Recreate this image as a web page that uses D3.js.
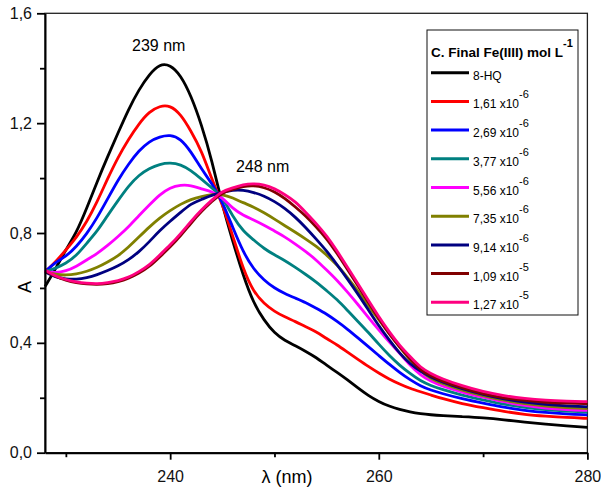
<!DOCTYPE html>
<html>
<head>
<meta charset="utf-8">
<script src="https://cdn.jsdelivr.net/npm/d3@7"></script>
<style>
  body { margin: 0; background: #fff; }
  svg { display: block; font-family: "Liberation Sans", Arial, sans-serif; }
</style>
</head>
<body>
<script>
// wavelengths (nm)
var wavelengths = [228,229,230,231,232,233,234,235,236,237,238,239,240,241,242,243,244,245,246,247,
  248,249,250,251,252,253,254,255,256,257,258,259,260,261,262,263,264,265,266,268,270,272,274,276,278,280];

// absorbance for each Fe(III) concentration
var hq    = [0.605,0.668,0.74,0.80,0.89,0.987,1.078,1.164,1.25,1.322,1.378,1.416,1.413,1.375,1.30,1.195,1.065,0.90,0.77,0.645,
  0.544,0.482,0.435,0.408,0.39,0.369,0.347,0.318,0.293,0.265,0.236,0.208,0.186,0.169,0.157,0.148,0.142,0.138,0.135,0.131,0.127,0.12,0.111,0.104,0.097,0.092];
var c161  = [0.658,0.694,0.738,0.783,0.84,0.913,0.998,1.076,1.141,1.198,1.242,1.263,1.265,1.233,1.171,1.10,0.995,0.905,0.79,0.668,
  0.585,0.543,0.514,0.494,0.478,0.458,0.441,0.415,0.393,0.366,0.34,0.314,0.29,0.268,0.25,0.234,0.222,0.21,0.198,0.178,0.164,0.15,0.139,0.133,0.128,0.125];
var c269  = [0.659,0.694,0.714,0.75,0.797,0.855,0.924,0.993,1.051,1.10,1.134,1.151,1.158,1.144,1.096,1.033,0.98,0.915,0.82,0.73,
  0.668,0.628,0.599,0.579,0.563,0.547,0.526,0.505,0.478,0.45,0.418,0.386,0.354,0.322,0.292,0.265,0.243,0.228,0.216,0.196,0.18,0.165,0.154,0.146,0.141,0.138];
var c377  = [0.659,0.671,0.689,0.717,0.763,0.806,0.864,0.918,0.971,1.011,1.035,1.051,1.056,1.05,1.028,0.996,0.964,0.931,0.86,0.806,
  0.775,0.743,0.72,0.70,0.675,0.649,0.622,0.59,0.558,0.518,0.478,0.438,0.395,0.354,0.318,0.288,0.261,0.244,0.231,0.209,0.192,0.176,0.164,0.156,0.151,0.148];
var c556  = [0.659,0.655,0.661,0.678,0.702,0.725,0.754,0.787,0.822,0.863,0.902,0.94,0.966,0.975,0.974,0.96,0.951,0.929,0.889,0.864,
  0.848,0.829,0.807,0.786,0.76,0.733,0.702,0.665,0.628,0.585,0.54,0.493,0.447,0.403,0.362,0.318,0.282,0.26,0.243,0.22,0.202,0.185,0.172,0.162,0.157,0.154];
var c735  = [0.659,0.649,0.646,0.65,0.66,0.674,0.694,0.716,0.748,0.785,0.822,0.855,0.882,0.905,0.923,0.933,0.941,0.941,0.928,0.91,
  0.895,0.874,0.851,0.826,0.803,0.778,0.752,0.72,0.684,0.638,0.589,0.535,0.485,0.434,0.385,0.337,0.296,0.27,0.252,0.227,0.208,0.19,0.178,0.169,0.164,0.161];
var c914  = [0.659,0.639,0.632,0.631,0.637,0.648,0.663,0.68,0.702,0.731,0.768,0.809,0.843,0.875,0.907,0.922,0.938,0.948,0.957,0.957,
  0.948,0.935,0.915,0.89,0.858,0.82,0.778,0.735,0.685,0.632,0.578,0.52,0.462,0.41,0.362,0.323,0.296,0.275,0.258,0.232,0.212,0.195,0.184,0.175,0.17,0.167];
var c1090 = [0.662,0.641,0.628,0.619,0.614,0.612,0.615,0.622,0.634,0.653,0.677,0.713,0.749,0.79,0.836,0.879,0.915,0.948,0.958,0.97,
  0.973,0.966,0.951,0.926,0.895,0.862,0.822,0.78,0.726,0.667,0.608,0.548,0.488,0.432,0.385,0.342,0.30,0.28,0.262,0.236,0.214,0.199,0.19,0.183,0.18,0.178];
var c1270 = [0.665,0.643,0.63,0.621,0.617,0.615,0.619,0.626,0.638,0.659,0.683,0.72,0.756,0.797,0.843,0.885,0.92,0.953,0.964,0.977,
  0.98,0.976,0.962,0.94,0.915,0.875,0.835,0.79,0.735,0.675,0.615,0.555,0.495,0.44,0.39,0.35,0.31,0.288,0.27,0.243,0.222,0.207,0.197,0.191,0.188,0.186];

var seriesValues = [hq, c161, c269, c377, c556, c735, c914, c1090, c1270];
var legendNames = ["8-HQ", "1,61 x10", "2,69 x10", "3,77 x10", "5,56 x10", "7,35 x10", "9,14 x10", "1,09 x10", "1,27 x10"];
var legendExps  = ["", "-6", "-6", "-6", "-6", "-6", "-6", "-5", "-5"];
var colors = ["#000000", "#ff0000", "#0000ff", "#008080", "#ff00ff", "#808000", "#000080", "#800000", "#ff0080"];

var xMajor = [240, 260, 280];
var xMinor = [230, 250, 270];
var yMajor = [0, 0.4, 0.8, 1.2, 1.6];
var yMinor = [0.2, 0.6, 1.0, 1.4];

var peakLabels = ["239 nm", "248 nm"];

(function() {
  var width = 601, height = 488;
  var plotLeft = 45, plotRight = 587.4, plotTop = 13.3, plotBottom = 452.7;

  var x = d3.scaleLinear().domain([228, 280]).range([plotLeft, plotRight]);
  var y = d3.scaleLinear().domain([0, 1.6]).range([plotBottom, plotTop]);

  var comma = d3.formatLocale({ decimal: ",", thousands: ".", grouping: [3], currency: ["", ""] }).format(".1f");

  var svg = d3.select("body").append("svg")
    .attr("width", width)
    .attr("height", height);

  // frame
  svg.append("rect")
    .attr("x", plotLeft).attr("y", plotTop)
    .attr("width", plotRight - plotLeft).attr("height", plotBottom - plotTop)
    .style("fill", "none")
    .style("stroke", "#222")
    .style("stroke-width", 1.3);

  // curves
  var line = d3.line()
    .x(function(d) { return x(d[0]); })
    .y(function(d) { return y(d[1]); })
    .curve(d3.curveBasis);

  seriesValues.forEach(function(vals, i) {
    svg.append("path")
      .datum(wavelengths.map(function(w, j) { return [w, vals[j]]; }))
      .attr("d", line)
      .style("fill", "none")
      .style("stroke", colors[i])
      .style("stroke-width", 2.8)
      .style("stroke-linejoin", "round");
  });

  // axes
  svg.append("g")
    .attr("transform", "translate(0," + plotBottom + ")")
    .call(d3.axisBottom(x).tickValues(xMajor).tickFormat(d3.format("d")).tickSize(7).tickPadding(11).tickSizeOuter(0));
  svg.append("g")
    .attr("transform", "translate(0," + plotBottom + ")")
    .call(d3.axisBottom(x).tickValues(xMinor).tickFormat("").tickSize(4.5).tickSizeOuter(0))
    .select(".domain").remove();

  svg.append("g")
    .attr("transform", "translate(" + plotLeft + ",0)")
    .call(d3.axisLeft(y).tickValues(yMajor).tickFormat(comma).tickSize(8).tickPadding(5).tickSizeOuter(0));
  svg.append("g")
    .attr("transform", "translate(" + plotLeft + ",0)")
    .call(d3.axisLeft(y).tickValues(yMinor).tickFormat("").tickSize(5).tickSizeOuter(0))
    .select(".domain").remove();

  svg.selectAll(".domain").style("stroke-width", 2).style("stroke", "#000");
  svg.selectAll(".tick line").style("stroke-width", 1.8).style("stroke", "#000");
  svg.selectAll(".tick text")
    .style("font-size", "16px")
    .style("font-family", "'Liberation Sans', Arial, sans-serif")
    .style("fill", "#111");

  // axis titles
  svg.append("text")
    .attr("x", 287).attr("y", 483)
    .attr("text-anchor", "middle")
    .style("font-size", "18px")
    .text("λ (nm)");

  svg.append("text")
    .attr("transform", "translate(31,287) rotate(-90)")
    .attr("text-anchor", "middle")
    .style("font-size", "18px")
    .text("A");

  // peak labels: placed above the 8-HQ maximum and the last curve's maximum
  var hqMax = d3.maxIndex(hq), lastMax = d3.maxIndex(c1270);
  svg.append("text")
    .attr("x", x(wavelengths[hqMax]) - 1)
    .attr("y", y(hq[hqMax]) - 13)
    .attr("text-anchor", "middle")
    .style("font-size", "16px")
    .text(peakLabels[0]);
  svg.append("text")
    .attr("x", x(wavelengths[lastMax]) + 9)
    .attr("y", y(c1270[lastMax]) - 12)
    .attr("text-anchor", "middle")
    .style("font-size", "16px")
    .text(peakLabels[1]);

  // legend
  var legend = svg.append("g");
  legend.append("rect")
    .attr("x", 427).attr("y", 30)
    .attr("width", 151).attr("height", 285)
    .style("fill", "#fff")
    .style("stroke", "#111")
    .style("stroke-width", 1);

  var title = legend.append("text")
    .attr("x", 431).attr("y", 57)
    .style("font-size", "13.5px")
    .style("font-weight", "bold");
  title.append("tspan").text("C. Final Fe(IIII) mol L");
  title.append("tspan").attr("dy", -10).style("font-size", "11px").text("-1");

  legendNames.forEach(function(name, i) {
    var ly = 72.7 + i * 28.7;
    legend.append("line")
      .attr("x1", 431).attr("x2", 469)
      .attr("y1", ly).attr("y2", ly)
      .style("stroke", colors[i])
      .style("stroke-width", 3);
    var t = legend.append("text")
      .attr("x", 473).attr("y", ly + 7)
      .style("font-size", "12px");
    t.append("tspan").text(name);
    if (legendExps[i]) {
      t.append("tspan").attr("dy", -10).style("font-size", "11px").text(legendExps[i]);
    }
  });
})();
</script>
</body>
</html>
